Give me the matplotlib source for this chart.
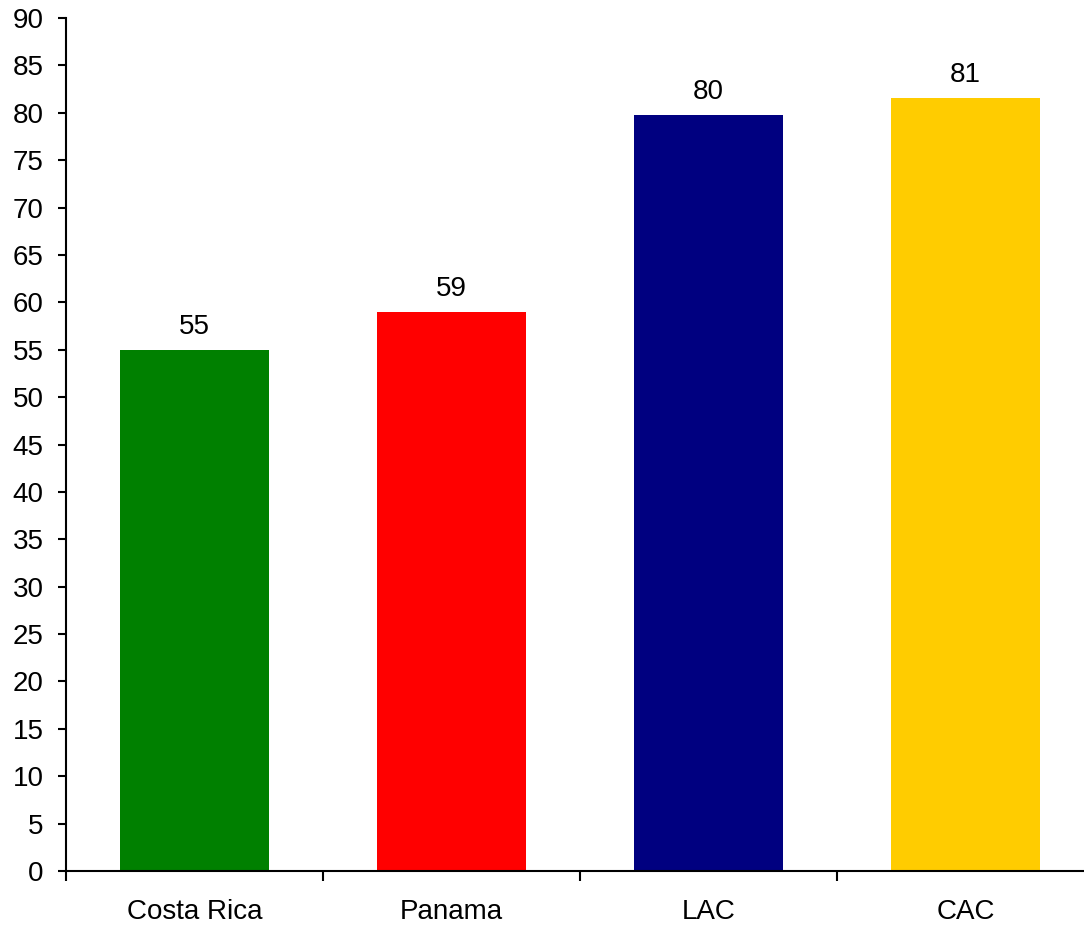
import matplotlib
matplotlib.use("Agg")
import matplotlib.pyplot as plt

# data
categories = ["Costa Rica", "Panama", "LAC", "CAC"]
values = [55.0, 59.0, 79.8, 81.6]
value_labels = ["55", "59", "80", "81"]
colors = ["#008000", "#FF0000", "#000080", "#FFCC00"]

plt.rcParams['font.family'] = ['Liberation Sans', 'DejaVu Sans']
plt.rcParams['font.size'] = 20

fig = plt.figure(figsize=(10.84, 9.26), dpi=100)
ax = fig.add_axes([66/1084, 1-871/926, 1028/1084, 853/926])

x = range(len(categories))
bars = ax.bar(x, values, width=0.576, color=colors)
for b, lab in zip(bars, value_labels):
    ax.annotate(lab, (b.get_x()+b.get_width()/2, b.get_height()),
                xytext=(0, 7), textcoords='offset points',
                ha='center', va='bottom', fontsize=20)

ax.set_xlim(-0.5, len(categories)-0.5)
ax.set_ylim(0, 90)
ax.set_yticks(range(0, 91, 5))

# category names between boundary ticks
ax.set_xticks([i-0.5 for i in range(len(categories)+1)])
ax.set_xticklabels([])
ax.set_xticks(list(x), minor=True)
ax.set_xticklabels(categories, minor=True)
ax.tick_params(axis='x', which='major', direction='out', length=7, width=1.5)
ax.tick_params(axis='x', which='minor', length=0, pad=20)
ax.tick_params(axis='y', direction='out', length=6, width=1.5, pad=10)

for s in ['top', 'right']:
    ax.spines[s].set_visible(False)
for s in ['left', 'bottom']:
    ax.spines[s].set_linewidth(1.5)

fig.savefig("out.png", dpi=100)
